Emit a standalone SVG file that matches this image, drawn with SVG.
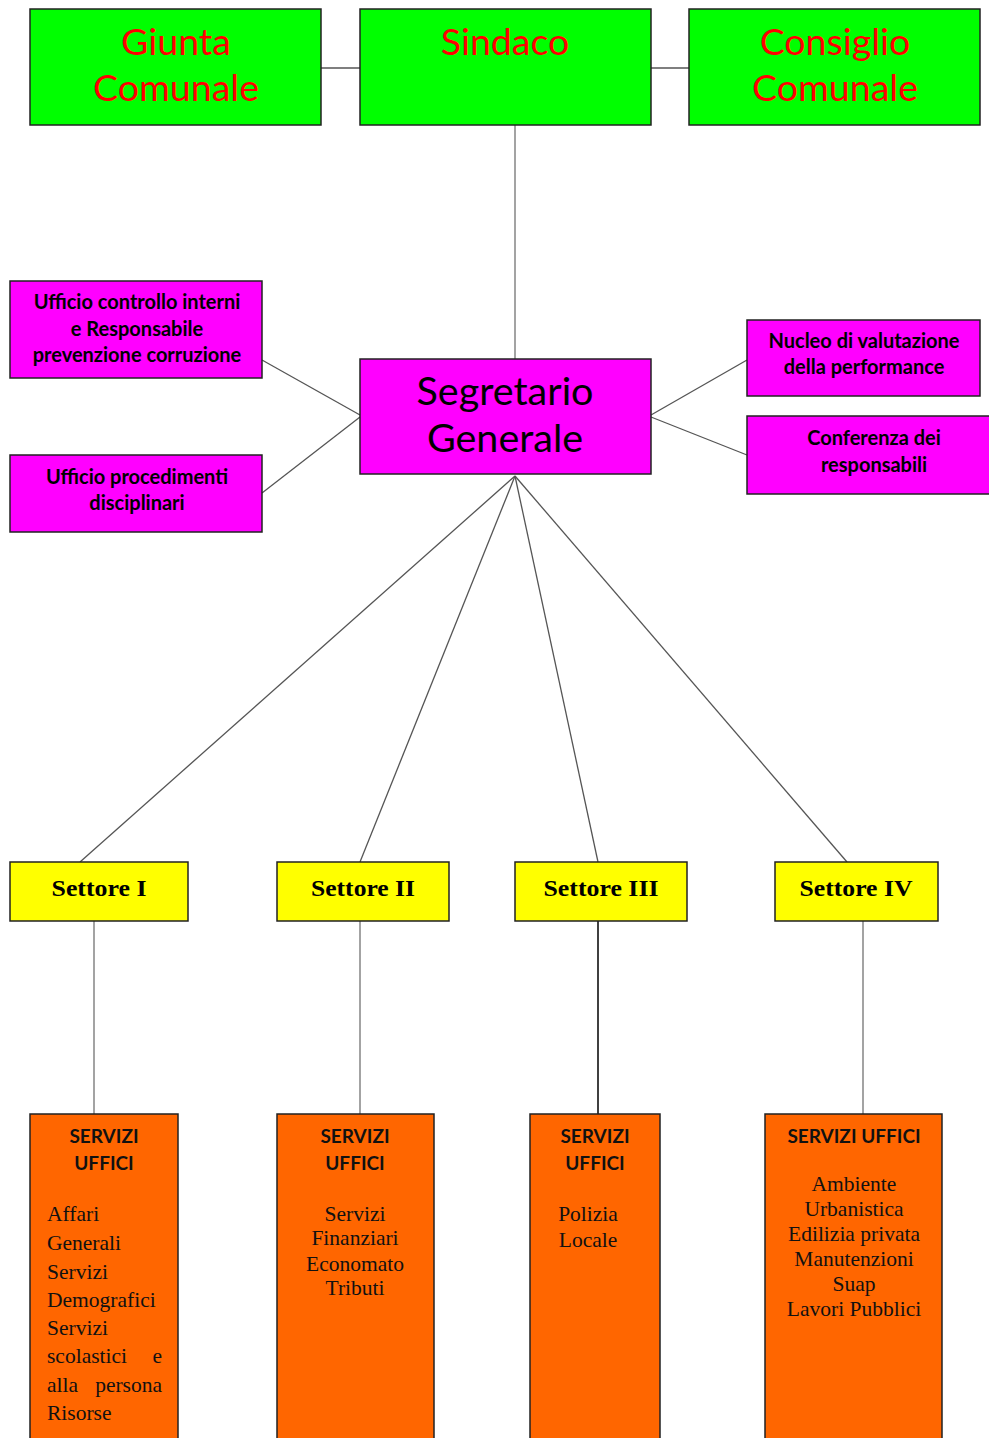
<svg xmlns="http://www.w3.org/2000/svg" width="989" height="1438" viewBox="0 0 989 1438">
<style>
.box{stroke:#222;stroke-width:1.5}
.g{fill:#00ff00}.m{fill:#ff00ff}.y{fill:#ffff00}.o{fill:#ff6600}
.top{font-family:Lato,"Open Sans",sans-serif;font-size:37.5px;fill:#ff0000;text-anchor:middle}
.seg{font-family:Lato,"Open Sans",sans-serif;font-size:39.5px;fill:#000;text-anchor:middle}
.mag{font-family:Lato,"Open Sans",sans-serif;font-size:20px;fill:#000;text-anchor:middle;font-weight:bold}
.set{font-family:"Liberation Serif",serif;font-size:23px;font-weight:bold;fill:#000;text-anchor:middle}
.su{font-family:Lato,"Open Sans",sans-serif;font-size:19px;font-weight:bold;fill:#111;text-anchor:middle}
.body{font-family:"Liberation Serif",serif;font-size:21.5px;fill:#111}
.c{text-anchor:middle}
.ln{stroke:#555;stroke-width:1.3;fill:none}
.lg{stroke:#999;stroke-width:1.8;fill:none}
</style>
<g id="connectors">
<line class="ln" x1="321" y1="68" x2="360" y2="68"/>
<line class="ln" x1="651" y1="68" x2="689" y2="68"/>
<line class="lg" x1="515" y1="125" x2="515" y2="359"/>
<line class="ln" x1="262" y1="360" x2="360" y2="415"/>
<line class="ln" x1="262" y1="493" x2="360" y2="417"/>
<line class="ln" x1="651" y1="415" x2="747" y2="360"/>
<line class="ln" x1="651" y1="417" x2="747" y2="455"/>
<line class="ln" x1="515" y1="476" x2="80" y2="862"/>
<line class="ln" x1="515" y1="476" x2="360" y2="862"/>
<line class="ln" x1="515" y1="476" x2="598" y2="862"/>
<line class="ln" x1="515" y1="476" x2="847" y2="862"/>
<line class="lg" x1="94" y1="921" x2="94" y2="1114"/>
<line class="lg" x1="360" y1="921" x2="360" y2="1114"/>
<line stroke="#000" stroke-width="1.5" x1="598" y1="921" x2="598" y2="1114"/>
<line class="lg" x1="863" y1="921" x2="863" y2="1114"/>
</g>
<g id="giunta"><rect class="box g" x="30" y="9" width="291" height="116"/>
<text class="top" x="176" y="55">Giunta</text><text class="top" x="176" y="101">Comunale</text></g>
<g id="sindaco"><rect class="box g" x="360" y="9" width="291" height="116"/>
<text class="top" x="505" y="55">Sindaco</text></g>
<g id="consiglio"><rect class="box g" x="689" y="9" width="291" height="116"/>
<text class="top" x="835" y="55">Consiglio</text><text class="top" x="835" y="101">Comunale</text></g>
<g id="segretario"><rect class="box m" x="360" y="359" width="291" height="115"/>
<text class="seg" x="505" y="405">Segretario</text><text class="seg" x="505" y="452">Generale</text></g>
<g id="ufficio-controllo"><rect class="box m" x="10" y="281" width="252" height="97"/>
<text class="mag" x="137" y="309">Ufficio controllo interni</text>
<text class="mag" x="137" y="336">e Responsabile</text>
<text class="mag" x="137" y="362">prevenzione corruzione</text></g>
<g id="ufficio-procedimenti"><rect class="box m" x="10" y="455" width="252" height="77"/>
<text class="mag" x="137" y="484">Ufficio procedimenti</text>
<text class="mag" x="137" y="510">disciplinari</text></g>
<g id="nucleo"><rect class="box m" x="747" y="320" width="233" height="76"/>
<text class="mag" x="864" y="348">Nucleo di valutazione</text>
<text class="mag" x="864" y="374">della performance</text></g>
<g id="conferenza"><rect class="box m" x="747" y="416" width="250" height="78"/>
<text class="mag" x="874" y="445">Conferenza dei</text>
<text class="mag" x="874" y="472">responsabili</text></g>
<g id="settore1"><rect class="box y" x="10" y="862" width="178" height="59"/><text class="set" x="99" y="896" textLength="95" lengthAdjust="spacingAndGlyphs">Settore I</text></g>
<g id="settore2"><rect class="box y" x="277" y="862" width="172" height="59"/><text class="set" x="363" y="896" textLength="104" lengthAdjust="spacingAndGlyphs">Settore II</text></g>
<g id="settore3"><rect class="box y" x="515" y="862" width="172" height="59"/><text class="set" x="601" y="896" textLength="115" lengthAdjust="spacingAndGlyphs">Settore III</text></g>
<g id="settore4"><rect class="box y" x="775" y="862" width="163" height="59"/><text class="set" x="856" y="896" textLength="113" lengthAdjust="spacingAndGlyphs">Settore IV</text></g>
<g id="servizi1"><rect class="box o" x="30" y="1114" width="148" height="330"/>
<text class="su" x="104" y="1143">SERVIZI</text><text class="su" x="104" y="1170">UFFICI</text>
<text class="body" x="47" y="1221">Affari</text>
<text class="body" x="47" y="1250">Generali</text>
<text class="body" x="47" y="1279">Servizi</text>
<text class="body" x="47" y="1307">Demografici</text>
<text class="body" x="47" y="1335">Servizi</text>
<text class="body" x="47" y="1363">scolastici</text><text class="body" x="162" y="1363" text-anchor="end">e</text>
<text class="body" x="47" y="1392">alla</text><text class="body" x="162" y="1392" text-anchor="end">persona</text>
<text class="body" x="47" y="1420">Risorse</text></g>
<g id="servizi2"><rect class="box o" x="277" y="1114" width="157" height="330"/>
<text class="su" x="355" y="1143">SERVIZI</text><text class="su" x="355" y="1170">UFFICI</text>
<text class="body c" x="355" y="1221">Servizi</text>
<text class="body c" x="355" y="1245">Finanziari</text>
<text class="body c" x="355" y="1271">Economato</text>
<text class="body c" x="355" y="1295">Tributi</text></g>
<g id="servizi3"><rect class="box o" x="530" y="1114" width="130" height="330"/>
<text class="su" x="595" y="1143">SERVIZI</text><text class="su" x="595" y="1170">UFFICI</text>
<text class="body c" x="588" y="1221">Polizia</text>
<text class="body c" x="588" y="1247">Locale</text></g>
<g id="servizi4"><rect class="box o" x="765" y="1114" width="177" height="330"/>
<text class="su" x="854" y="1143">SERVIZI UFFICI</text>
<text class="body c" x="854" y="1191">Ambiente</text>
<text class="body c" x="854" y="1216">Urbanistica</text>
<text class="body c" x="854" y="1241">Edilizia privata</text>
<text class="body c" x="854" y="1266">Manutenzioni</text>
<text class="body c" x="854" y="1291">Suap</text>
<text class="body c" x="854" y="1316">Lavori Pubblici</text></g>
</svg>
